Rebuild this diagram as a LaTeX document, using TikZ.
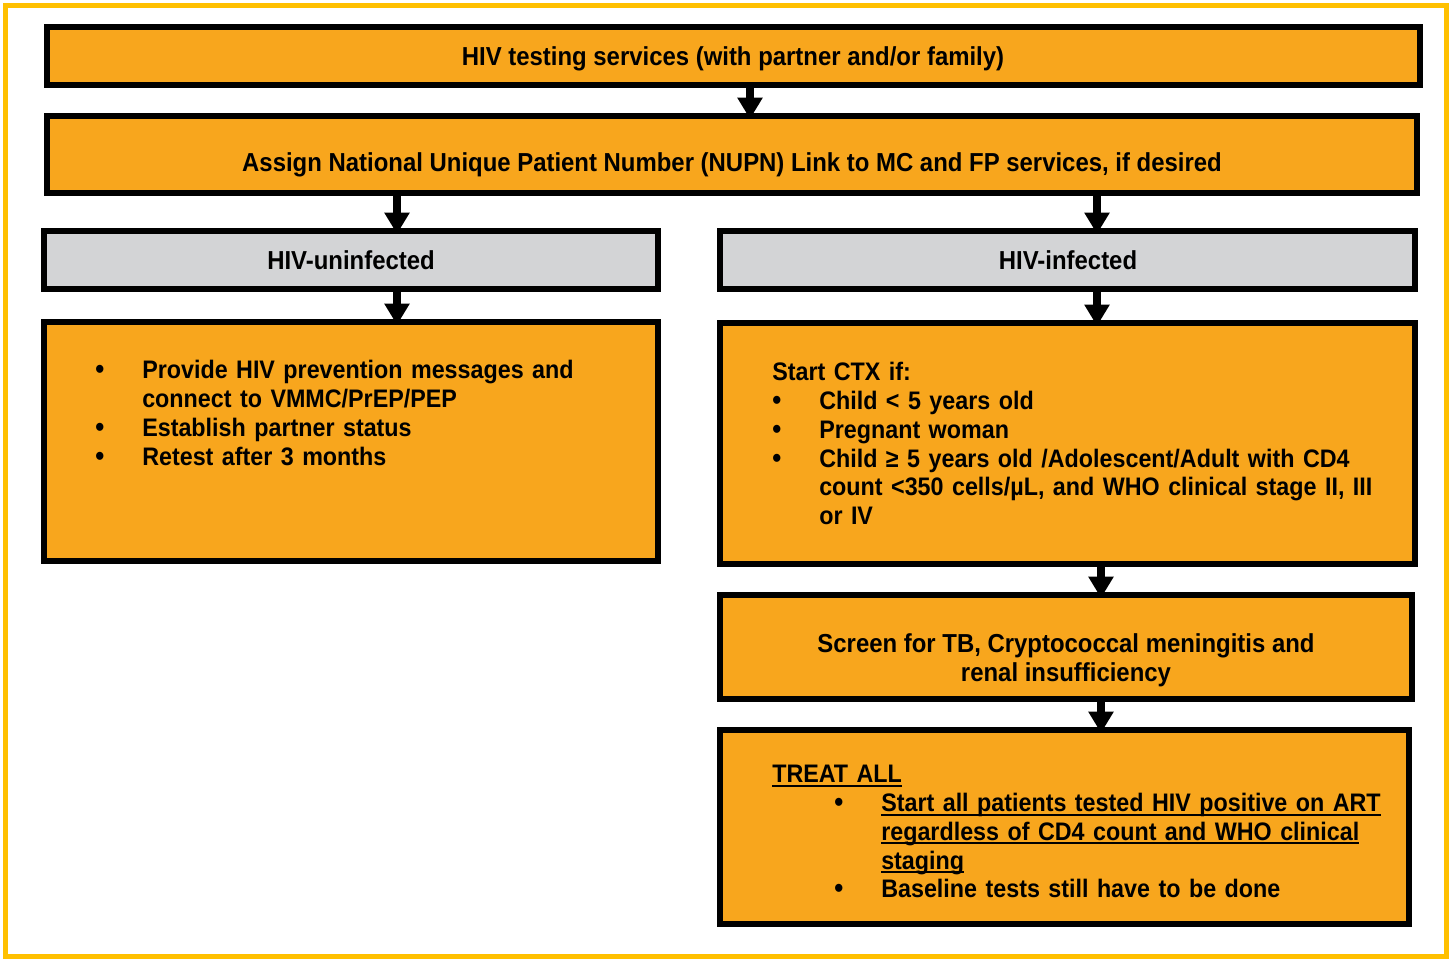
\documentclass[tikz,border=0pt]{standalone}
\usepackage{fontspec}
\usepackage{graphicx}
\setmainfont{Liberation Sans}
\newfontfamily\narrowsans[FakeStretch=0.92]{Liberation Sans}
\usetikzlibrary{arrows.meta,fit}

\definecolor{boxorange}{RGB}{248,166,29}
\definecolor{boxgray}{RGB}{211,212,214}
\definecolor{frameyellow}{RGB}{255,192,0}

\newlength\bulletsep
\setlength\bulletsep{35.25pt}
% bullet item, optional space before the bullet
\newcommand\bitem[2][0pt]{\hangindent=\dimexpr#1+\bulletsep\relax\hangafter=1
  \noindent\hspace*{#1}\makebox[\bulletsep][l]{\scalebox{1.1}{\textbullet}}#2\par}
\newcommand\ulbox[1]{\setbox0\hbox{#1}\rlap{\rule[-3pt]{\wd0}{1.5pt}}\box0}

\begin{document}
\begin{tikzpicture}[x=0.75pt,y=-0.75pt,
  txt/.style={font=\narrowsans\bfseries\fontsize{19.5}{21.5}\selectfont},
  box/.style={draw=black,line width=4.5pt,fill=boxorange,inner sep=0pt},
  graybox/.style={box,fill=boxgray},
  lst/.style={anchor=north west,align=left,text width=500pt,inner sep=0pt,
    font=\narrowsans\bfseries\fontsize{19}{21.6}\selectfont},
  flow/.style={-{Triangle[width=18pt,length=16pt]},line width=6pt,shorten >=-4.5pt}]
  \useasboundingbox (0,0) rectangle (1453,959);
  \draw[frameyellow,line width=3.75pt] (5.5,5.5) rectangle (1446,956);

  % boxes
  \node[box,fit={(47,27) (1420,85)}] (test) {};
  \node[box,fit={(47,116) (1417,193)}] (nupn) {};
  \node[graybox,fit={(44,231) (658,289)}] (neg) {};
  \node[graybox,fit={(720,231) (1415,289)}] (pos) {};
  \node[box,fit={(44,322) (658,561)}] (negact) {};
  \node[box,fit={(720,323) (1415,564)}] (ctx) {};
  \node[box,fit={(720,595) (1412,699)}] (screen) {};
  \node[box,fit={(720,730) (1409,924)}] (treat) {};

  % texts
  \node[txt,anchor=base] (testtxt) at (733,65.5) {HIV testing services (with partner and/or family)};
  \node[txt,anchor=base] (nupntxt) at (732,172) {Assign National Unique Patient Number (NUPN) Link to MC and FP services, if desired};
  \node[txt,anchor=base] (negtxt) at (351,269.5) {HIV-uninfected};
  \node[txt,anchor=base] (postxt) at (1068,269.5) {HIV-infected};
  \node[lst] (negacttxt) at (95,360) {%
    \bitem{Provide HIV prevention messages and\newline connect to VMMC/PrEP/PEP}
    \bitem{Establish partner status}
    \bitem{Retest after 3 months}};
  \node[lst] (ctxtxt) at (772,362) {%
    \noindent Start CTX if:\par
    \bitem{Child < 5 years old}
    \bitem{Pregnant woman}
    \bitem{Child ≥ 5 years old /Adolescent/Adult with CD4\newline count <350 cells/µL, and WHO clinical stage II, III\newline or IV}};
  \node[txt,align=center] (screentxt) at (1066,660) {Screen for TB, Cryptococcal meningitis and\\renal insufficiency};
  \node[lst] (treattxt) at (772,765) {%
    \noindent\ulbox{TREAT ALL}\par
    \bitem[46.5pt]{\ulbox{Start all patients tested HIV positive on ART}\newline
      \ulbox{regardless of CD4 count and WHO clinical}\newline\ulbox{staging}}
    \bitem[46.5pt]{Baseline tests still have to be done}};

  % arrows
  \coordinate (a1) at (750,0);
  \coordinate (a2) at (397,0);
  \coordinate (a3) at (1097,0);
  \coordinate (a4) at (1101,0);
  \draw[flow] (a1 |- test.south) -- (a1 |- nupn.north);
  \draw[flow] (a2 |- nupn.south) -- (a2 |- neg.north);
  \draw[flow] (a3 |- nupn.south) -- (a3 |- pos.north);
  \draw[flow] (a2 |- neg.south) -- (a2 |- negact.north);
  \draw[flow] (a3 |- pos.south) -- (a3 |- ctx.north);
  \draw[flow] (a4 |- ctx.south) -- (a4 |- screen.north);
  \draw[flow] (a4 |- screen.south) -- (a4 |- treat.north);
\end{tikzpicture}
\end{document}
